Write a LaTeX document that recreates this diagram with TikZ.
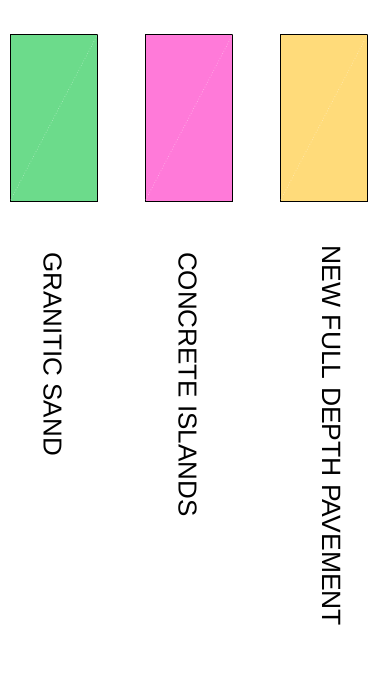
\documentclass[tikz,border=0pt]{standalone}
\usepackage{fontspec}
\setmainfont{Liberation Sans}
\definecolor{sandgreen}{RGB}{108,219,139}
\definecolor{islandpink}{RGB}{255,122,217}
\definecolor{paveyellow}{RGB}{255,219,122}
\tikzset{
  swatch/.style={draw=black, line width=1.6pt, minimum width=87pt, minimum height=167pt, inner sep=0pt, anchor=north west},
  diag/.style={line width=0.7pt, draw=white, opacity=0.4, dotted},
  legendtext/.style={rotate=-90, anchor=base west, inner sep=0pt, font=\fontsize{26}{30}\selectfont}
}
\begin{document}
\begin{tikzpicture}[x=1pt,y=1pt]
\useasboundingbox (0,0) rectangle (377,-683);
\fill[white] (0,0) rectangle (377,-683);
\node[swatch, fill=sandgreen] (g) at (9.5,-33.5) {};
\node[swatch, fill=islandpink] (p) at (144.5,-33.5) {};
\node[swatch, fill=paveyellow] (y) at (279.5,-33.5) {};
\draw[diag] (g.south west) -- (g.north east);
\draw[diag] (p.south west) -- (p.north east);
\draw[diag] (y.south west) -- (y.north east);
\node[legendtext] (gt) at (43.5,-252) {GRANITIC SAND};
\node[legendtext] (pt) at (178.5,-252) {CONCRETE ISLANDS};
\node[legendtext, font=\fontsize{26.5}{30}\selectfont] (yt) at (322,-245.5) {NEW FULL DEPTH PAVEMENT};
\end{tikzpicture}
\end{document}
